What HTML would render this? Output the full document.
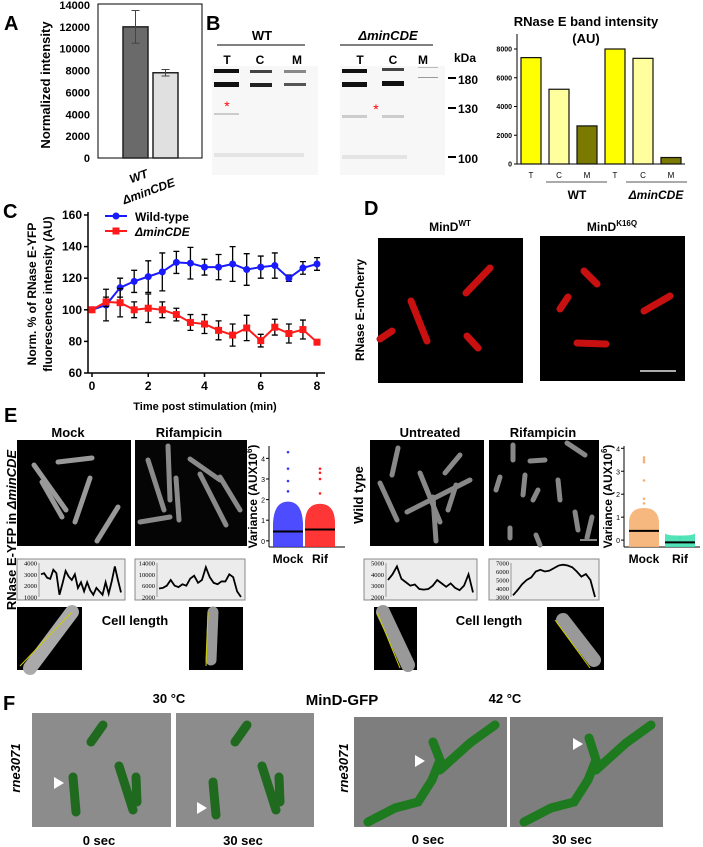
<!DOCTYPE html>
<html><head><meta charset="utf-8"><style>
body{margin:0;background:#fff}
svg{display:block;font-family:"Liberation Sans",sans-serif}
.b{font-weight:bold}
</style></head><body>
<svg id="fig" width="703" height="847" viewBox="0 0 703 847" xmlns="http://www.w3.org/2000/svg">
<g id="gA">
<text x="4" y="30" class="b" font-size="20">A</text>
<text transform="translate(50,85) rotate(-90)" text-anchor="middle" class="b" font-size="13">Normalized intensity</text>
<rect x="98" y="4" width="104" height="154" fill="#fff" stroke="#000" stroke-width="1"/>
<text transform="translate(140,180) rotate(-20)" text-anchor="middle" class="b" font-size="12" font-style="italic">WT</text>
<text transform="translate(150,195) rotate(-20)" text-anchor="middle" class="b" font-size="12" font-style="italic">ΔminCDE</text>
</g>
<g id="gB">
<text x="206" y="30" class="b" font-size="20">B</text>
<g>
<rect x="212" y="66" width="106" height="109" fill="#f7f7f7"/>
<rect x="214" y="69" width="25" height="4" fill="#111"/><rect x="250" y="70" width="22" height="3" fill="#444"/><rect x="284" y="70" width="22" height="3" fill="#888"/>
<rect x="214" y="82" width="25" height="5" fill="#111"/><rect x="250" y="83" width="22" height="4" fill="#222"/><rect x="284" y="83" width="22" height="3" fill="#555"/>
<rect x="214" y="113" width="25" height="2" fill="#ccc"/><rect x="214" y="153" width="90" height="4" fill="#e4e4e4"/>
<text x="227" y="111" fill="#f00" font-size="14" text-anchor="middle">*</text>
</g>
<g>
<rect x="340" y="66" width="105" height="109" fill="#f7f7f7"/>
<rect x="342" y="69" width="25" height="4" fill="#111"/><rect x="382" y="68" width="22" height="3" fill="#444"/><rect x="418" y="67" width="20" height="1" fill="#bbb"/>
<rect x="342" y="82" width="25" height="5" fill="#111"/><rect x="382" y="81" width="22" height="5" fill="#111"/><rect x="418" y="77" width="20" height="1" fill="#999"/>
<rect x="342" y="115" width="25" height="3" fill="#ccc"/><rect x="382" y="115" width="22" height="3" fill="#ccc"/><rect x="342" y="155" width="65" height="4" fill="#e4e4e4"/>
<text x="376" y="114" fill="#f00" font-size="14" text-anchor="middle">*</text>
</g>
<text x="262" y="40" text-anchor="middle" class="b" font-size="13">WT</text>
<line x1="217" y1="45" x2="305" y2="45" stroke="#000"/>
<text x="388" y="40" text-anchor="middle" class="b" font-size="13" font-style="italic">ΔminCDE</text>
<line x1="340" y1="45" x2="433" y2="45" stroke="#000"/>
<g class="b" font-size="12" text-anchor="middle">
<text x="227" y="64">T</text><text x="260" y="64">C</text><text x="297" y="64">M</text>
<text x="360" y="64">T</text><text x="393" y="64">C</text><text x="423" y="64">M</text>
<text x="465" y="62">kDa</text>
</g>
<g class="b" font-size="12">
<line x1="448" y1="78" x2="456" y2="78" stroke="#000" stroke-width="2"/><text x="458" y="84">180</text>
<line x1="448" y1="108" x2="456" y2="108" stroke="#000" stroke-width="2"/><text x="458" y="113">130</text>
<line x1="448" y1="157" x2="456" y2="157" stroke="#000" stroke-width="2"/><text x="458" y="163">100</text>
</g>
<text x="586" y="26" text-anchor="middle" class="b" font-size="13">RNase E band intensity</text>
<text x="586" y="43" text-anchor="middle" class="b" font-size="13">(AU)</text>
<text x="577" y="199" text-anchor="middle" class="b" font-size="12">WT</text>
<line x1="546" y1="182" x2="607" y2="182" stroke="#555"/>
<text x="656" y="199" text-anchor="middle" class="b" font-size="12" font-style="italic">ΔminCDE</text>
<line x1="626" y1="182" x2="687" y2="182" stroke="#555"/>
</g>
<g id="gC">
<text x="3" y="218" class="b" font-size="20">C</text>
<text transform="translate(36,294) rotate(-90)" text-anchor="middle" class="b" font-size="12">Norm. % of RNase E-YFP</text>
<text transform="translate(52,294) rotate(-90)" text-anchor="middle" class="b" font-size="12">fluorescence intensity (AU)</text>
<text x="205" y="410" text-anchor="middle" class="b" font-size="11">Time post stimulation (min)</text>
<line x1="105" y1="216" x2="127" y2="216" stroke="#1a1aff" stroke-width="2"/><circle cx="116" cy="216" r="3.5" fill="#1a1aff"/>
<text x="135" y="221" class="b" font-size="12">Wild-type</text>
<line x1="105" y1="231" x2="127" y2="231" stroke="#ff1a1a" stroke-width="2"/><rect x="112.5" y="227.5" width="7" height="7" fill="#ff1a1a"/>
<text x="135" y="236" class="b" font-size="12" font-style="italic">ΔminCDE</text>
</g>
<g id="gD">
<text x="364" y="215" class="b" font-size="20">D</text>
<text x="450" y="231" text-anchor="middle" class="b" font-size="12">MinD<tspan font-size="8" dy="-5">WT</tspan></text>
<text x="612" y="231" text-anchor="middle" class="b" font-size="12">MinD<tspan font-size="8" dy="-5">K16Q</tspan></text>
<text transform="translate(364,310) rotate(-90)" text-anchor="middle" font-size="12" font-weight="bold">RNase E-mCherry</text>
<g>
<rect x="378" y="238" width="145" height="145" fill="#000"/>
<g stroke="#c81010" stroke-width="7" stroke-linecap="round" fill="none">
<line x1="466" y1="293" x2="490" y2="268"/><line x1="411" y1="301" x2="427" y2="341"/><line x1="467" y1="336" x2="478" y2="348"/><line x1="380" y1="339" x2="392" y2="331"/></g></g>
<g>
<rect x="540" y="236" width="145" height="145" fill="#000"/>
<g stroke="#c81010" stroke-width="7" stroke-linecap="round" fill="none">
<line x1="584" y1="271" x2="597" y2="284"/><line x1="560" y1="309" x2="568" y2="297"/><line x1="644" y1="311" x2="670" y2="296"/><line x1="577" y1="343" x2="606" y2="344"/></g>
<line x1="640" y1="371" x2="676" y2="371" stroke="#aaa" stroke-width="2"/></g>
</g>
<g id="gE">
<text x="4" y="422" class="b" font-size="20">E</text>
<text transform="translate(16,530) rotate(-90)" text-anchor="middle" class="b" font-size="13">RNase E-YFP in <tspan font-style="italic">ΔminCDE</tspan></text>
<text transform="translate(363,495) rotate(-90)" text-anchor="middle" class="b" font-size="13">Wild type</text>
<g class="b" font-size="13" text-anchor="middle">
<text x="68" y="437">Mock</text>
<text x="189" y="437">Rifampicin</text>
<text x="430" y="437">Untreated</text>
<text x="543" y="437">Rifampicin</text>
<text x="135" y="625">Cell length</text>
<text x="489" y="625">Cell length</text>
</g>
<g><rect x="17" y="440" width="114" height="106" fill="#000"/>
<g stroke="#999" stroke-width="5" stroke-linecap="round"><line x1="34" y1="465" x2="66" y2="510"/><line x1="58" y1="462" x2="92" y2="458"/><line x1="42" y1="482" x2="62" y2="517"/><line x1="90" y1="478" x2="75" y2="522"/><line x1="118" y1="507" x2="97" y2="541"/></g></g>
<g><rect x="135" y="440" width="112" height="106" fill="#050505"/>
<g stroke="#8a8a8a" stroke-width="5" stroke-linecap="round"><line x1="168" y1="446" x2="170" y2="500"/><line x1="148" y1="460" x2="164" y2="510"/><line x1="190" y1="459" x2="220" y2="480"/><line x1="200" y1="474" x2="226" y2="525"/><line x1="220" y1="477" x2="240" y2="510"/><line x1="140" y1="522" x2="170" y2="517"/><line x1="176" y1="478" x2="179" y2="520"/></g></g>
<g><rect x="370" y="440" width="114" height="106" fill="#000"/>
<g stroke="#888" stroke-width="5" stroke-linecap="round"><line x1="398" y1="448" x2="392" y2="475"/><line x1="380" y1="483" x2="397" y2="520"/><line x1="420" y1="473" x2="440" y2="522"/><line x1="445" y1="473" x2="460" y2="455"/><line x1="407" y1="512" x2="470" y2="480"/><line x1="433" y1="497" x2="436" y2="541"/><line x1="456" y1="485" x2="448" y2="510"/></g></g>
<g><rect x="489" y="440" width="110" height="106" fill="#000"/>
<g stroke="#888" stroke-width="5" stroke-linecap="round"><line x1="513" y1="445" x2="513" y2="460"/><line x1="530" y1="461" x2="545" y2="460"/><line x1="567" y1="443" x2="585" y2="455"/><line x1="500" y1="477" x2="496" y2="490"/><line x1="525" y1="475" x2="523" y2="495"/><line x1="538" y1="490" x2="533" y2="500"/><line x1="558" y1="480" x2="560" y2="500"/><line x1="575" y1="512" x2="578" y2="530"/><line x1="510" y1="528" x2="510" y2="538"/><line x1="536" y1="535" x2="540" y2="545"/><line x1="592" y1="517" x2="587" y2="538"/></g>
<line x1="580" y1="540" x2="597" y2="540" stroke="#888" stroke-width="2"/></g>
<g>
<rect x="17" y="607" width="65" height="63" fill="#000"/><line x1="30" y1="668" x2="72" y2="612" stroke="#aaa" stroke-width="14" stroke-linecap="round"/><line x1="20" y1="666" x2="72" y2="612" stroke="#cc0" stroke-width="1"/>
<rect x="189" y="607" width="54" height="63" fill="#000"/><line x1="213" y1="612" x2="211" y2="660" stroke="#999" stroke-width="11" stroke-linecap="round"/><line x1="206" y1="666" x2="208" y2="612" stroke="#cc0" stroke-width="1"/>
<rect x="374" y="607" width="43" height="63" fill="#000"/><line x1="383" y1="612" x2="408" y2="665" stroke="#999" stroke-width="14" stroke-linecap="round"/><line x1="377" y1="612" x2="400" y2="668" stroke="#cc0" stroke-width="1"/>
<rect x="547" y="607" width="57" height="63" fill="#000"/><line x1="563" y1="620" x2="594" y2="660" stroke="#999" stroke-width="14" stroke-linecap="round"/><line x1="555" y1="620" x2="590" y2="668" stroke="#cc0" stroke-width="1"/>
</g>
</g>
<g id="gF">
<text x="3" y="710" class="b" font-size="20">F</text>
<g class="b" font-size="13" text-anchor="middle">
<text x="169" y="703">30 °C</text>
<text x="342" y="705" font-size="15">MinD-GFP</text>
<text x="505" y="703">42 °C</text>
<text x="99" y="845">0 sec</text>
<text x="243" y="845">30 sec</text>
<text x="428" y="844">0 sec</text>
<text x="572" y="844">30 sec</text>
</g>
<text transform="translate(20,768) rotate(-90)" text-anchor="middle" class="b" font-size="13" font-style="italic">rne3071</text>
<text transform="translate(348,768) rotate(-90)" text-anchor="middle" class="b" font-size="13" font-style="italic">rne3071</text>
<g><rect x="32" y="713" width="139" height="114" fill="#8c8c8c"/>
<g stroke="#1f6a1f" stroke-width="9" stroke-linecap="round"><line x1="103" y1="725" x2="91" y2="742"/><line x1="73" y1="777" x2="76" y2="812"/><line x1="119" y1="766" x2="133" y2="810"/><line x1="136" y1="777" x2="137" y2="802"/></g>
<polygon points="54,777 54,789 64,783" fill="#fff"/></g>
<g><rect x="176" y="713" width="138" height="114" fill="#8c8c8c"/>
<g stroke="#1f6a1f" stroke-width="9" stroke-linecap="round"><line x1="247" y1="725" x2="235" y2="742"/><line x1="213" y1="782" x2="216" y2="815"/><line x1="262" y1="766" x2="276" y2="810"/><line x1="279" y1="777" x2="280" y2="802"/></g>
<polygon points="197,802 197,814 207,808" fill="#fff"/></g>
<g><rect x="354" y="717" width="153" height="110" fill="#7e7e7e"/>
<g stroke="#1e7a1e" stroke-width="9" stroke-linecap="round" fill="none"><polyline points="368,822 395,808 418,802 432,780 440,760 433,742"/><polyline points="440,770 470,743 495,725"/></g>
<polygon points="415,755 415,767 425,761" fill="#fff"/></g>
<g><rect x="510" y="717" width="153" height="110" fill="#7e7e7e"/>
<g stroke="#1e7a1e" stroke-width="9" stroke-linecap="round" fill="none"><polyline points="524,822 551,808 574,802 588,780 596,760 589,738"/><polyline points="596,770 626,743 651,725"/></g>
<polygon points="573,738 573,750 583,744" fill="#fff"/></g>
</g>
</svg>
<script>
// ---- Panel A data ----
const aCats=["WT","ΔminCDE"];
const aVals=[12000,7800];
const aErrLo=[10500,7500];
const aErrHi=[13500,8100];
// ---- Panel B bar data ----
const bCats=["T","C","M","T","C","M"];
const bVals=[7400,5200,2650,8000,7350,450];
const bTicks=[0,2000,4000,6000,8000];
// ---- Panel C data ----
const cTime=[0,0.5,1,1.5,2,2.5,3,3.5,4,4.5,5,5.5,6,6.5,7,7.5,8];
const cWT=[100,103,114,118,121,124,130,129.5,127,127,129,125.5,127,128,120,126.5,129];
const cWTErr=[0,10,6,7,10,12,7,10,5,8,11,10,7,8,2,4,4];
const cMin=[100,105,104.5,100,101,100,97,92,91,87,84,88.5,80.5,89,85,87.5,79.5];
const cMinErr=[0,3,9,5,9,5,4,5,6,6,7,8,4,5,6,6,0];
const cYTicks=[60,80,100,120,140,160];
const cXTicks=[0,2,4,6,8];
// ---- Panel E profiles ----
const pMock=[3000,3100,2700,2600,3400,3100,1200,2200,3300,2800,2500,3000,1800,2300,1500,2300,1600,1200,1800,1500,1200,2300,1300,2400,3700,2500,1400];
const pMockTicks=[1000,2000,3000,4000];
const pRif=[5000,5200,6000,8000,6000,5500,6500,6000,8500,9500,7000,8000,12500,9000,7000,6500,7500,7500,10000,9000,4000,2000];
const pRifTicks=[2000,6000,10000,14000];
const pUnt=[3500,4000,4700,3600,3300,3000,3100,2700,2650,2700,3000,3500,3200,2900,3200,2800,2600,3000,4000,2400];
const pUntTicks=[2000,3000,4000,5000];
const pRifWT=[3200,3800,4500,5000,5300,6000,6200,6000,6100,6400,6700,6800,6700,6500,6000,5400,5700,5000,3000];
const pRifWTTicks=[3000,4000,5000,6000,7000];
// ---- Panel E variance ----
const vLeftMedian=[0.45,0.55];
const vLeftBodyTop=[1.9,1.8];
const vLeftOutliers=[[4.3,3.5,2.9,2.4],[3.5,3.3,3.0,2.3]];
const vRightMedian=[0.4,-0.1];
const vRightBodyTop=[1.4,0.2];
const vRightOutliers=[[3.6,3.5,3.4,2.6,1.8,1.6],[0.1]];
const vTicks=[0,1,2,3,4];

const NS="http://www.w3.org/2000/svg";
function mk(tag,attrs,parent){const e=document.createElementNS(NS,tag);for(const k in attrs)e.setAttribute(k,attrs[k]);parent.appendChild(e);return e;}
const gA=document.getElementById('gA'),gB=document.getElementById('gB'),gC=document.getElementById('gC'),gE=document.getElementById('gE');

// Panel A
const aY=v=>158-v*(153/14000);
[0,2000,4000,6000,8000,10000,12000,14000].forEach(t=>{
  const tx=mk('text',{x:90,y:aY(t)+4,'text-anchor':'end','font-size':11,'font-weight':'bold'},gA);tx.textContent=t;
  
  
});
const aX=[123,153];const aFill=["#6a6a6a","#e0e0e0"];
aVals.forEach((v,i)=>{
  const r=mk('rect',{x:aX[i],y:aY(v),width:25,height:158-aY(v),fill:aFill[i],stroke:"#222","stroke-width":1.5},gA);
  
  
  const cx=aX[i]+12.5;
  const e=mk('path',{d:`M${cx},${aY(aErrLo[i])}V${aY(aErrHi[i])}M${cx-4},${aY(aErrLo[i])}h8M${cx-4},${aY(aErrHi[i])}h8`,stroke:"#444",fill:"none"},gA);
  
  
});

// Panel B bar chart
const bY=v=>164-v*(115/8000);
mk('line',{x1:517,y1:34,x2:517,y2:164,stroke:"#000"},gB);
mk('line',{x1:517,y1:164,x2:685,y2:164,stroke:"#000"},gB);
bTicks.forEach(t=>{
  mk('line',{x1:514,y1:bY(t),x2:517,y2:bY(t),stroke:"#000"},gB);
  const tx=mk('text',{x:512,y:bY(t)+2.5,'text-anchor':'end','font-size':7,'font-weight':'bold'},gB);tx.textContent=t;
  
  
});
const bFill=["#ffff00","#ffff9e","#7a7a00"];
bVals.forEach((v,i)=>{
  const x=521+i*28;
  const r=mk('rect',{x:x,y:bY(v),width:20,height:164-bY(v),fill:bFill[i%3],stroke:"#111","stroke-width":1.2},gB);
  
  
  const tx=mk('text',{x:x+10,y:178,'text-anchor':'middle','font-size':8},gB);tx.textContent=bCats[i];
  
  
});

// Panel C
const cX=t=>92+t*(225/8), cY=v=>373-(v-60)*1.58;
mk('line',{x1:88,y1:212,x2:88,y2:373,stroke:"#000","stroke-width":1.5},gC);
mk('line',{x1:88,y1:373,x2:325,y2:373,stroke:"#000","stroke-width":1.5},gC);
cYTicks.forEach(t=>{
  mk('line',{x1:84,y1:cY(t),x2:88,y2:cY(t),stroke:"#000","stroke-width":1.5},gC);
  const tx=mk('text',{x:82,y:cY(t)+4,'text-anchor':'end','font-size':12,'font-weight':'bold'},gC);tx.textContent=t;
  
  
});
cXTicks.forEach(t=>{
  mk('line',{x1:cX(t),y1:373,x2:cX(t),y2:377,stroke:"#000","stroke-width":1.5},gC);
  const tx=mk('text',{x:cX(t),y:390,'text-anchor':'middle','font-size':12,'font-weight':'bold'},gC);tx.textContent=t;
  
  
});
function series(vals,errs,color,sq,name){
  vals.forEach((v,i)=>{const x=cX(cTime[i]);if(errs[i]>0){
    const e=mk('path',{d:`M${x},${cY(v-errs[i])}V${cY(v+errs[i])}M${x-3},${cY(v-errs[i])}h6M${x-3},${cY(v+errs[i])}h6`,stroke:"#000","stroke-width":1.3,fill:"none"},gC);
    
    }});
  const l=mk('polyline',{points:vals.map((v,i)=>cX(cTime[i])+','+cY(v)).join(' '),fill:'none',stroke:color,'stroke-width':2},gC);
  
  
  vals.forEach((v,i)=>{const x=cX(cTime[i]),y=cY(v);
    const m=sq?mk('rect',{x:x-3.5,y:y-3.5,width:7,height:7,fill:color},gC):mk('circle',{cx:x,cy:y,r:3.5,fill:color},gC);
    
    });
}
series(cWT,cWTErr,"#1a1aff",false,'wild-type');
series(cMin,cMinErr,"#ff1a1a",true,'minCDE');

// Panel E profiles
function profile(vals,ticks,x0,x1,y0,y1,name){
  const g=mk('g',{},gE);
  
  
  mk('rect',{x:x0,y:y0,width:x1-x0,height:y1-y0,fill:"#ececec",stroke:"#888"},g);
  const lo=ticks[0],hi=ticks[ticks.length-1];
  const px0=x0+22,px1=x1-4,py0=y0+4,py1=y1-3;
  const Y=v=>py1-(v-lo)/(hi-lo)*(py1-py0);
  ticks.forEach(t=>{const tx=mk('text',{x:px0-2,y:Y(t)+2.5,'text-anchor':'end','font-size':6.5,'font-family':'Liberation Serif'},g);tx.textContent=t;
    
    });
  mk('line',{x1:px0,y1:py0,x2:px0,y2:py1,stroke:"#999"},g);
  const pl=mk('polyline',{points:vals.map((v,i)=>(px0+2+i*(px1-px0-2)/(vals.length-1))+','+Y(v)).join(' '),fill:'none',stroke:'#000','stroke-width':1.8},g);
  
  
}
profile(pMock,pMockTicks,17,125,559,600,'profile-mock');
profile(pRif,pRifTicks,135,245,559,600,'profile-rif');
profile(pUnt,pUntTicks,364,477,559,600,'profile-untreated');
profile(pRifWT,pRifWTTicks,489,599,559,600,'profile-rif-wt');

// Panel E variance
function variance(ax,top,bot,span,med,bodyTop,outs,xs,colors,labelX,name){
  const g=mk('g',{},gE);
  
  
  const lo=-0.3;const Y=v=>bot-(v-lo)/(span-lo)*(bot-top);
  mk('line',{x1:ax,y1:top,x2:ax,y2:bot,stroke:"#000"},g);
  mk('line',{x1:ax,y1:bot,x2:ax+76,y2:bot,stroke:"#000"},g);
  vTicks.forEach(t=>{if(t>span)return;mk('line',{x1:ax-3,y1:Y(t),x2:ax,y2:Y(t),stroke:"#000"},g);
    const tx=mk('text',{x:ax-4,y:Y(t)+3,'text-anchor':'end','font-size':7},g);tx.textContent=t;
    
    });
  med.forEach((m,i)=>{const x=xs[i];
    const body=mk('path',{d:`M${x-15},${Y(lo)}L${x-15},${Y(m+0.4)}Q${x-14},${Y(bodyTop[i])} ${x},${Y(bodyTop[i])}Q${x+14},${Y(bodyTop[i])} ${x+15},${Y(m+0.4)}L${x+15},${Y(lo)}Z`,fill:colors[i],opacity:0.9},g);
    
    
    outs[i].forEach(o=>{const d=mk('circle',{cx:x,cy:Y(o),r:1.3,fill:colors[i]},g);
      
      });
    const ml=mk('line',{x1:x-15,y1:Y(m),x2:x+15,y2:Y(m),stroke:"#000","stroke-width":2},g);
    
    
  });
  const tl=mk('text',{transform:`translate(${labelX},${(top+bot)/2}) rotate(-90)`,'text-anchor':'middle','font-size':12,'font-weight':'bold'},g);
  tl.innerHTML='Variance (AUX10<tspan font-size="8" dy="-5">6</tspan><tspan dy="5">)</tspan>';
  
  
  ['Mock','Rif'].forEach((s,i)=>{const tx=mk('text',{x:xs[i],y:bot+16,'text-anchor':'middle','font-size':12,'font-weight':'bold'},g);tx.textContent=s;
    
    });
}
variance(269,446,547,4.6,vLeftMedian,vLeftBodyTop,vLeftOutliers,[288,320],["#3a3aff","#ff2020"],257,'variance-left');
variance(624,446,547,4.1,vRightMedian,vRightBodyTop,vRightOutliers,[644,680],["#f5b070","#40e0b0"],612,'variance-right');
</script>
</body></html>
